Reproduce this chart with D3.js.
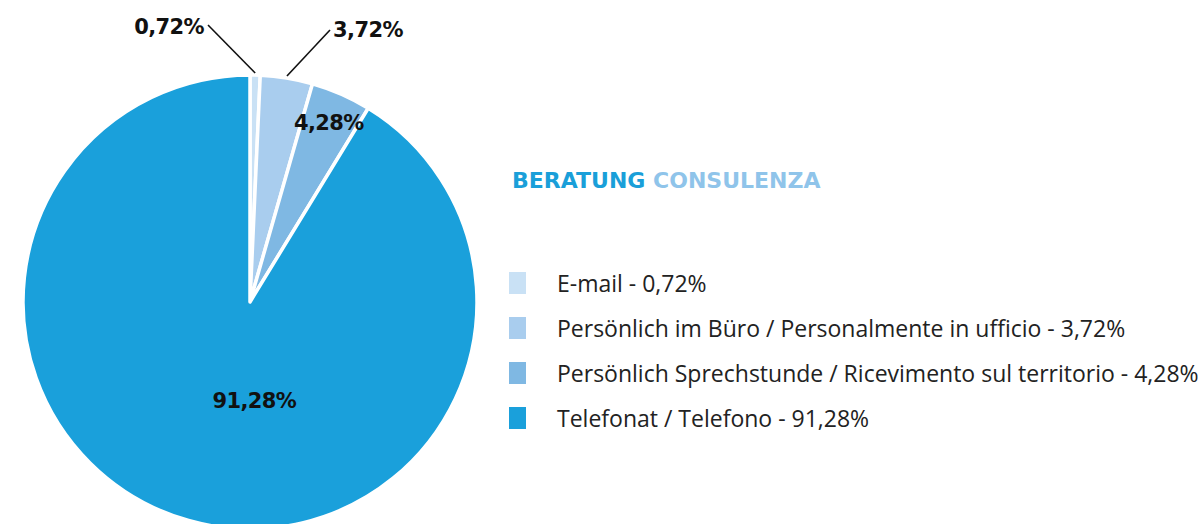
<!DOCTYPE html>
<html>
<head>
<meta charset="utf-8">
<script src="https://cdn.jsdelivr.net/npm/d3@7"></script>
<style>
  body { margin: 0; background: #fff; }
  svg { display: block; }
</style>
</head>
<body>
<div id="chart"></div>
<script>
// data
const categories = [
    'E-mail',
    'Persönlich im Büro / Personalmente in ufficio',
    'Persönlich Sprechstunde / Ricevimento sul territorio',
    'Telefonat / Telefono'
];
const values = [0.72, 3.72, 4.28, 91.28];
const colors = ['#c9e1f5', '#a9cdee', '#7fb8e3', '#1aa0db'];

const width = 1202, height = 524;
const cx = 250, cy = 302, radius = 227;

const fmt = v => v.toFixed(2).replace('.', ',') + '%';

const svg = d3.select('#chart').append('svg')
    .attr('width', width)
    .attr('height', height);

const data = categories.map((c, i) => ({ name: c, value: values[i], color: colors[i] }));

const pie = d3.pie().sort(null).value(d => d.value);
const arc = d3.arc().innerRadius(0).outerRadius(radius);

const g = svg.append('g').attr('transform', `translate(${cx},${cy})`);
const arcs = pie(data);

g.selectAll('path')
    .data(arcs)
    .enter().append('path')
    .attr('d', arc)
    .attr('fill', d => d.data.color)
    .attr('stroke', '#fff')
    .attr('stroke-width', 3.5)
    .attr('stroke-linejoin', 'round');

// labels: small slices get leader lines outside, others inside
const labelFont = '"DejaVu Sans", sans-serif';
const outside = [
    { i: 0, tx: -46, ty: -268, anchor: 'end', lx: -42, ly: -277 },
    { i: 1, tx: 83, ty: -265, anchor: 'start', lx: 80, ly: -272 }
];
outside.forEach(o => {
    const a = arcs[o.i];
    const mid = (a.startAngle + a.endAngle) / 2;
    const r0 = radius + 2;
    const x0 = Math.sin(mid) * r0, y0 = -Math.cos(mid) * r0;
    g.append('line')
        .attr('x1', x0).attr('y1', y0)
        .attr('x2', o.lx).attr('y2', o.ly)
        .attr('stroke', '#111')
        .attr('stroke-width', 1.6);
    g.append('text')
        .attr('x', o.tx).attr('y', o.ty)
        .attr('text-anchor', o.anchor)
        .attr('font-family', labelFont)
        .attr('font-weight', 700)
        .attr('font-size', 21)
        .attr('letter-spacing', -0.6)
        .attr('fill', '#111')
        .text(fmt(a.data.value));
});

const inside = [
    { i: 2, r: 0.865, dx: 0 },
    { i: 3, r: 0.45, dx: 32 }
];
inside.forEach(o => {
    const a = arcs[o.i];
    const c = d3.arc().innerRadius(radius * o.r).outerRadius(radius * o.r).centroid(a);
    g.append('text')
        .attr('x', c[0] + o.dx).attr('y', c[1])
        .attr('dy', '0.36em')
        .attr('text-anchor', 'middle')
        .attr('font-family', labelFont)
        .attr('font-weight', 700)
        .attr('font-size', 21)
        .attr('letter-spacing', -0.6)
        .attr('fill', '#111')
        .text(fmt(a.data.value));
});

// title
const title = svg.append('text')
    .attr('x', 512).attr('y', 188)
    .attr('font-family', labelFont)
    .attr('font-weight', 700)
    .attr('font-size', 22);
title.append('tspan').attr('fill', '#1a9fd9').text('BERATUNG ');
title.append('tspan').attr('fill', '#8fc4ea').text('CONSULENZA');

// legend
const legend = svg.append('g').attr('transform', 'translate(509,272)');
const rows = legend.selectAll('g')
    .data(data)
    .enter().append('g')
    .attr('transform', (d, i) => `translate(0,${i * 45})`);

rows.append('rect')
    .attr('width', 17)
    .attr('height', 22)
    .attr('fill', d => d.color);

rows.append('text')
    .attr('x', 48)
    .attr('y', 20)
    .attr('font-family', '"Open Sans", sans-serif')
    .attr('font-size', 23)
    .attr('fill', '#222')
    .text(d => `${d.name} - ${fmt(d.value)}`);
</script>
</body>
</html>
